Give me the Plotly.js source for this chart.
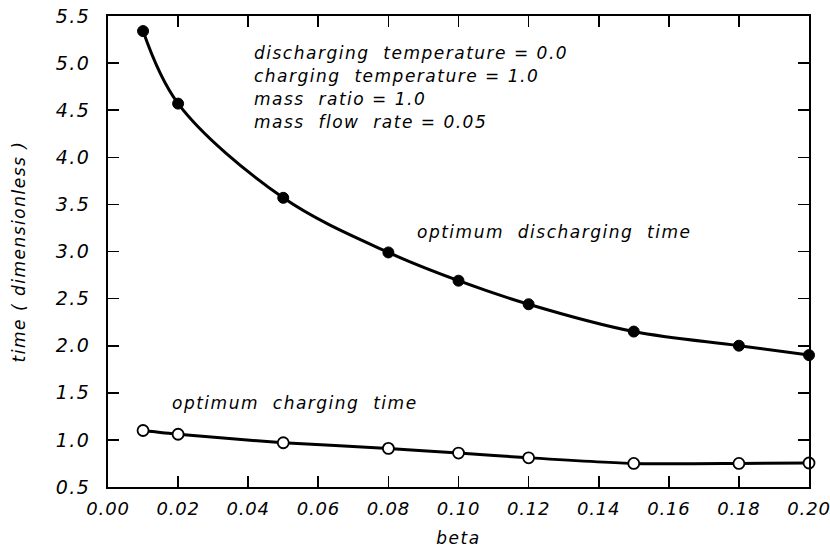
<!DOCTYPE html>
<html>
<head>
<meta charset="utf-8">
<script src="https://cdn.plot.ly/plotly-3.0.1.min.js"></script>
<style>
  html, body { margin: 0; padding: 0; background: #fff; }
  #chart { width: 830px; height: 555px; }
  .annotation-text, .ytick text, .g-xtitle text, .g-ytitle text { letter-spacing: 1.5px; }
  .xtick text { letter-spacing: 0.8px; }
</style>
</head>
<body>
<div id="chart"></div>
<script>
// ---- data ----
const beta = [0.01, 0.02, 0.05, 0.08, 0.10, 0.12, 0.15, 0.18, 0.20];
const dischargingTime = [5.34, 4.57, 3.57, 2.99, 2.69, 2.44, 2.15, 2.00, 1.90];
const chargingTime = [1.10, 1.06, 0.97, 0.91, 0.86, 0.81, 0.75, 0.75, 0.755];

const xTickVals = [0.00, 0.02, 0.04, 0.06, 0.08, 0.10, 0.12, 0.14, 0.16, 0.18, 0.20];
const xTickText = ['0.00', '0.02', '0.04', '0.06', '0.08', '0.10', '0.12', '0.14', '0.16', '0.18', '0.20'];
const yTickVals = [0.5, 1.0, 1.5, 2.0, 2.5, 3.0, 3.5, 4.0, 4.5, 5.0, 5.5];
const yTickText = ['0.5', '1.0', '1.5', '2.0', '2.5', '3.0', '3.5', '4.0', '4.5', '5.0', '5.5'];

const paramLabels = [
  'discharging  temperature = 0.0',
  'charging  temperature = 1.0',
  'mass  ratio = 1.0',
  'mass  flow  rate = 0.05'
];
const curveLabels = ['optimum  discharging  time', 'optimum  charging  time'];

const FONT = 'DejaVu Sans, sans-serif';
const ital = (size) => ({ family: FONT, size: size, color: '#000', style: 'italic' });
const it = (s) => '<i>' + s + '</i>';

const traces = [
  {
    x: beta, y: dischargingTime, type: 'scatter', mode: 'lines+markers',
    line: { color: '#000', width: 3, shape: 'spline', smoothing: 1 },
    marker: { symbol: 'circle', size: 11, color: '#000', line: { color: '#000', width: 1 } },
    showlegend: false, cliponaxis: false
  },
  {
    x: beta, y: chargingTime, type: 'scatter', mode: 'lines+markers',
    line: { color: '#000', width: 3, shape: 'spline', smoothing: 0.6 },
    marker: { symbol: 'circle', size: 11, color: '#fff', line: { color: '#000', width: 1.8 } },
    showlegend: false, cliponaxis: false
  }
];

const annotations = [];
const paramY0 = 5.107, paramDy = 0.245;
paramLabels.forEach((t, i) => {
  annotations.push({
    text: it(t), x: 0.041, y: paramY0 - i * paramDy, xref: 'x', yref: 'y',
    xanchor: 'left', yanchor: 'middle', showarrow: false, font: ital(17)
  });
});
annotations.push({
  text: it(curveLabels[0]), x: 0.0877, y: 3.207, xref: 'x', yref: 'y',
  xanchor: 'left', yanchor: 'middle', showarrow: false, font: ital(17)
});
annotations.push({
  text: it(curveLabels[1]), x: 0.0177, y: 1.39, xref: 'x', yref: 'y',
  xanchor: 'left', yanchor: 'middle', showarrow: false, font: ital(17)
});

const axisCommon = {
  showgrid: false, zeroline: false, showline: true, linecolor: '#000', linewidth: 1.8,
  mirror: 'allticks', ticks: 'inside', ticklen: 11, tickwidth: 1.6, tickcolor: '#000',
  tickmode: 'array', ticklabeloverflow: 'allow'
};

const layout = {
  width: 830, height: 555,
  margin: { l: 108, r: 21, t: 16, b: 68 },
  paper_bgcolor: '#fff', plot_bgcolor: '#fff',
  font: { family: FONT, color: '#000' },
  showlegend: false,
  xaxis: Object.assign({}, axisCommon, {
    range: [0, 0.20], tickvals: xTickVals, ticktext: xTickText.map(it),
    tickfont: ital(18), ticklabelstandoff: 5,
    title: { text: it('beta'), font: ital(17), standoff: 14 }
  }),
  yaxis: Object.assign({}, axisCommon, {
    range: [0.5, 5.5], tickvals: yTickVals, ticktext: yTickText.map(it),
    tickfont: ital(19), ticklabelstandoff: 12,
    title: { text: it('time ( dimensionless )'), font: ital(17), standoff: 26 }
  }),
  annotations: annotations
};

Plotly.newPlot('chart', traces, layout, { displayModeBar: false, staticPlot: true });
</script>
</body>
</html>
